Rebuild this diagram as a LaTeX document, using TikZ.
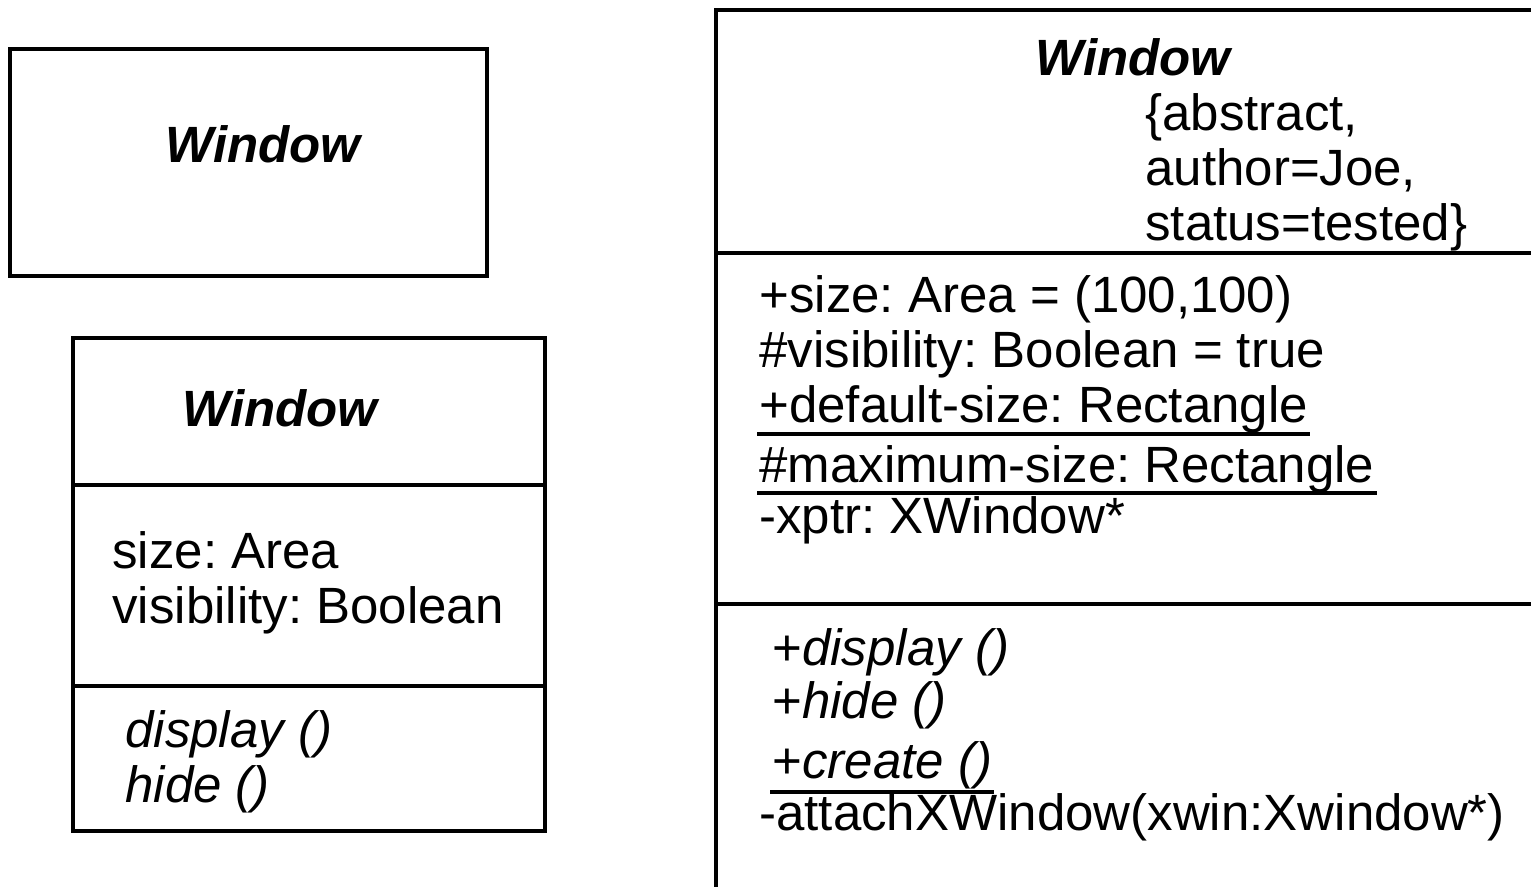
\documentclass[tikz,border=0pt]{standalone}
\usepackage{fontspec}
\setmainfont{Liberation Sans}
\frenchspacing

\begin{document}
\begin{tikzpicture} [
        x = 1pt, y = -1pt,
        line width = 4.8pt,
        every node/.style = { inner sep = 0, anchor = base west, font = \fontsize{51}{55}\selectfont },
        classname/.style = { font = \fontsize{51}{55}\selectfont\bfseries\itshape },
        oper/.style = { font = \fontsize{51}{55}\selectfont\itshape }
        ]
        \clip (0,0) rectangle (1531,886);

        % name only
        \draw (10,49) rectangle (487,276);
        \node [classname] (nameA) at (163,162) {Window};

        % name, attributes, operations
        \draw (73,338) rectangle (545,831);
        \draw (73,485) -- (545,485);
        \draw (73,686) -- (545,686);
        \node [classname] (nameB) at (180,426) {Window};
        \node (sizeB) at (110,568) {size: Area};
        \node (visB) at (110,623) {visibility: Boolean};
        \node [oper] (dispB) at (123,747) {display ()};
        \node [oper] (hideB) at (123,802) {hide ()};

        % full class
        \draw (1545,10) -- (716,10) -- (716,900);
        \draw (716,253) -- (1545,253);
        \draw (716,604) -- (1545,604);
        \node [classname] (nameC) at (1033,75) {Window};
        \node (tagA) at (1143,130) {\{abstract,};
        \node (tagB) at (1143,185) {author=Joe,};
        \node (tagC) at (1143,240) {status=tested\}};
        \node (sizeC) at (757,312) {+size: Area = (100,100)};
        \node (visC) at (757,367) {\#visibility: Boolean = true};
        \node (defC) at (757,422) {+default-size: Rectangle};
        \node (maxC) at (757,482) {\#maximum-size: Rectangle};
        \node (xptrC) at (757,533) {-xptr: XWindow*};
        \node (dispC) at (770,665) {+\textit{display ()}};
        \node (hideC) at (770,718) {+\textit{hide ()}};
        \node (createC) at (770,778) {+\textit{create ()}};
        \node (attachC) at (757,830) {-attachXWindow(xwin:Xwindow*)};

        % class scope
        \draw ([yshift=-12pt]defC.base west) -- ([yshift=-12pt]defC.base east);
        \draw ([yshift=-11pt]maxC.base west) -- ([yshift=-11pt]maxC.base east);
        \draw ([yshift=-14pt]createC.base west) -- ([yshift=-14pt]createC.base east);
    \end{tikzpicture}
\end{document}
